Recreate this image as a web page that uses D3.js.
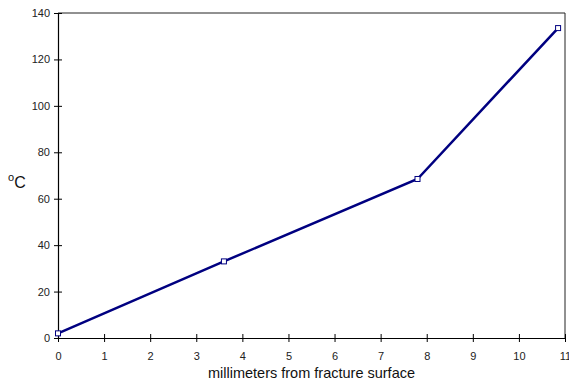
<!DOCTYPE html>
<html>
<head>
<meta charset="utf-8">
<script src="https://cdn.jsdelivr.net/npm/d3@7"></script>
<style>
	body { margin: 0; background: #fff; }
	text { font-family: "Liberation Sans", Arial, sans-serif; }
</style>
</head>
<body>
<svg id="chart" width="569" height="383"></svg>
<script>
var distMm = [0, 3.6, 7.8, 10.85],
	tempC = [2, 33, 68.5, 133.5],
	xTicks = [0, 1, 2, 3, 4, 5, 6, 7, 8, 9, 10, 11],
	yTicks = [0, 20, 40, 60, 80, 100, 120, 140];

var svg = d3.select("#chart"),
	pLeft = 58, pRight = 565, pTop = 13, pBottom = 338;

var xscale = d3.scaleLinear().domain([0, 11]).range([pLeft, pRight]),
	yscale = d3.scaleLinear().domain([0, 140]).range([pBottom, pTop]);

// frame on top and right
svg.append("path")
	.attr("d", "M" + pLeft + "," + pTop + "H" + pRight + "V" + pBottom)
	.attr("fill", "none")
	.attr("stroke", "#222")
	.attr("stroke-width", 1);

function crossTicks(g, horizontal) {
	g.selectAll(".tick line").each(function () {
		var l = d3.select(this);
		if (horizontal) l.attr("y1", -4).attr("y2", 4);
		else l.attr("x1", -4).attr("x2", 4);
	});
}

var xaxis = svg.append("g")
	.attr("transform", "translate(0," + pBottom + ")")
	.call(d3.axisBottom(xscale).tickValues(xTicks).tickSize(4).tickPadding(10).tickSizeOuter(0));
crossTicks(xaxis, true);

var yaxis = svg.append("g")
	.attr("transform", "translate(" + pLeft + ",0)")
	.call(d3.axisLeft(yscale).tickValues(yTicks).tickSize(4).tickPadding(4).tickSizeOuter(0));
crossTicks(yaxis, false);

svg.selectAll(".domain").attr("stroke", "#000").attr("stroke-width", 1.2);
svg.selectAll(".tick line").attr("stroke", "#000");
svg.selectAll(".tick text").attr("font-size", 11).attr("fill", "#222")
	.attr("font-family", "'Liberation Sans', Arial, sans-serif");

var pts = distMm.map(function (d, i) { return { x: d, y: tempC[i] }; });

svg.append("path")
	.datum(pts)
	.attr("fill", "none")
	.attr("stroke", "#000080")
	.attr("stroke-width", 2.5)
	.attr("d", d3.line().x(function (d) { return xscale(d.x); }).y(function (d) { return yscale(d.y); }));

svg.selectAll(".mk")
	.data(pts)
	.enter().append("rect")
	.attr("class", "mk")
	.attr("x", function (d) { return xscale(d.x) - 2.5; })
	.attr("y", function (d) { return yscale(d.y) - 2.5; })
	.attr("width", 5)
	.attr("height", 5)
	.attr("fill", "#fff")
	.attr("stroke", "#000080")
	.attr("stroke-width", 1);

svg.append("text")
	.attr("x", (pLeft + pRight) / 2)
	.attr("y", 378)
	.attr("text-anchor", "middle")
	.attr("font-size", 14.5)
	.attr("fill", "#111")
	.text("millimeters from fracture surface");

var yl = svg.append("text")
	.attr("x", 8)
	.attr("y", 188)
	.attr("font-size", 16)
	.attr("fill", "#111");
yl.append("tspan").attr("font-size", 11).attr("dy", -7).text("o");
yl.append("tspan").attr("dy", 7).text("C");
</script>
</body>
</html>
